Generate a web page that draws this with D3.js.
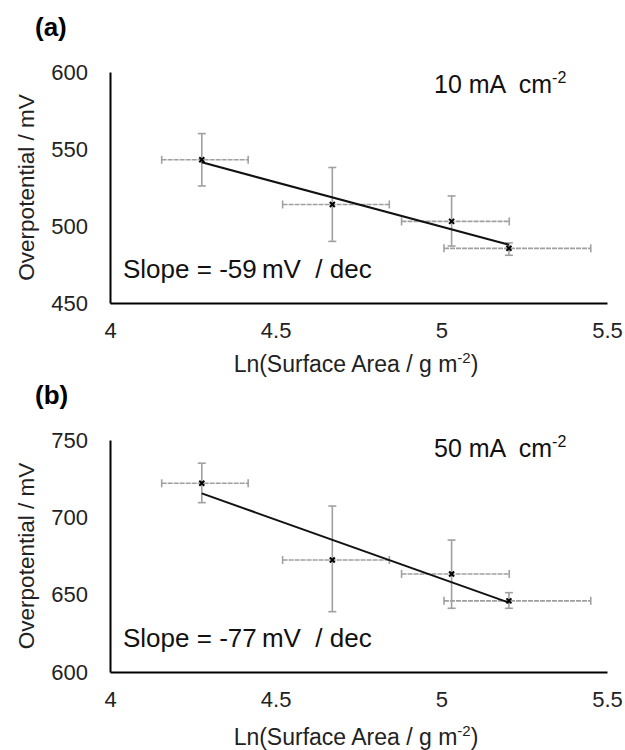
<!DOCTYPE html>
<html>
<head>
<meta charset="utf-8">
<script src="https://cdn.jsdelivr.net/npm/d3@7"></script>
<style>
  body { margin: 0; background: #fff; }
  svg { display: block; font-family: "Liberation Sans", Arial, sans-serif; }
  text { white-space: pre; }
</style>
</head>
<body>
<div id="chart"></div>
<script>
// ln(surface area) and its spread, shared by both panels
const lnArea = [4.277, 4.671, 5.031, 5.204];
const lnAreaLow = [4.156, 4.521, 4.880, 5.008];
const lnAreaHigh = [4.417, 4.843, 5.205, 5.451];

// overpotential at 10 mA cm-2
const eta10 = [543, 514, 503, 485.5];
const eta10Low = [526, 490, 487, 481];
const eta10High = [560, 538, 519.5, 489];

// overpotential at 50 mA cm-2
const eta50 = [722, 672.4, 663.4, 646];
const eta50Low = [709.5, 639, 641.2, 641.2];
const eta50High = [735, 707.3, 685.3, 651.3];

const xTicks = [4, 4.5, 5, 5.5];
const yTicks10 = [450, 500, 550, 600];
const yTicks50 = [600, 650, 700, 750];

const width = 625, height = 750;

const svg = d3.select('#chart').append('svg')
    .attr('width', width)
    .attr('height', height);

const x = d3.scaleLinear().domain([4, 5.5]).range([110, 607]);

// least squares line through the points
function fit(xs, ys) {
    const mx = d3.mean(xs), my = d3.mean(ys);
    const sxy = d3.sum(xs, (v, i) => (v - mx) * (ys[i] - my));
    const sxx = d3.sum(xs, v => (v - mx) * (v - mx));
    const b = sxy / sxx;
    return v => my + b * (v - mx);
}

function panel(opts) {
    const y = d3.scaleLinear().domain(opts.domain).range([opts.bottom, opts.top]);
    const g = svg.append('g');

    // axes
    g.append('g')
        .attr('transform', `translate(${x.range()[0]},0)`)
        .call(d3.axisLeft(y).tickValues(opts.ticks).tickSize(0).tickPadding(22))
        .call(a => a.select('.domain').attr('stroke', '#000').attr('stroke-width', 2))
        .call(a => a.selectAll('text').attr('font-size', 22).attr('fill', '#222')
            .attr('font-family', '"Liberation Sans", Arial, sans-serif'));

    g.append('g')
        .attr('transform', `translate(0,${opts.bottom})`)
        .call(d3.axisBottom(x).tickValues(xTicks).tickFormat(d3.format('')).tickSize(0).tickPadding(19))
        .call(a => a.select('.domain').attr('stroke', '#000').attr('stroke-width', 2))
        .call(a => a.selectAll('text').attr('font-size', 22).attr('fill', '#222')
            .attr('font-family', '"Liberation Sans", Arial, sans-serif'));

    const pts = lnArea.map((v, i) => ({
        x: v, xl: lnAreaLow[i], xh: lnAreaHigh[i],
        y: opts.vals[i], yl: opts.low[i], yh: opts.high[i]
    }));

    // horizontal error bars
    const eb = g.append('g').attr('stroke', '#a0a0a0').attr('stroke-width', 1.6).attr('fill', 'none');
    eb.selectAll('.hbar').data(pts).enter().append('line')
        .attr('x1', d => x(d.xl)).attr('x2', d => x(d.xh))
        .attr('y1', d => y(d.y)).attr('y2', d => y(d.y))
        .attr('stroke-dasharray', '5,1');
    eb.selectAll('.hcapl').data(pts).enter().append('line')
        .attr('x1', d => x(d.xl)).attr('x2', d => x(d.xl))
        .attr('y1', d => y(d.y) - 4).attr('y2', d => y(d.y) + 4);
    eb.selectAll('.hcapr').data(pts).enter().append('line')
        .attr('x1', d => x(d.xh)).attr('x2', d => x(d.xh))
        .attr('y1', d => y(d.y) - 4).attr('y2', d => y(d.y) + 4);

    // vertical error bars
    eb.selectAll('.vbar').data(pts).enter().append('line')
        .attr('x1', d => x(d.x)).attr('x2', d => x(d.x))
        .attr('y1', d => y(d.yl)).attr('y2', d => y(d.yh));
    eb.selectAll('.vcapl').data(pts).enter().append('line')
        .attr('x1', d => x(d.x) - 4).attr('x2', d => x(d.x) + 4)
        .attr('y1', d => y(d.yl)).attr('y2', d => y(d.yl));
    eb.selectAll('.vcaph').data(pts).enter().append('line')
        .attr('x1', d => x(d.x) - 4).attr('x2', d => x(d.x) + 4)
        .attr('y1', d => y(d.yh)).attr('y2', d => y(d.yh));

    // linear trend line
    const f = fit(lnArea, opts.vals);
    const x0 = d3.min(lnArea), x1 = d3.max(lnArea);
    g.append('line')
        .attr('x1', x(x0)).attr('y1', y(f(x0)))
        .attr('x2', x(x1)).attr('y2', y(f(x1)))
        .attr('stroke', '#111').attr('stroke-width', 2);

    // markers
    g.selectAll('.mark').data(pts).enter().append('path')
        .attr('transform', d => `translate(${x(d.x)},${y(d.y)})`)
        .attr('d', d3.symbol(d3.symbolX, 18))
        .attr('stroke', '#000').attr('stroke-width', 2);

    // texts
    g.append('text')
        .attr('x', 35).attr('y', opts.top - 36)
        .attr('font-size', 26).attr('font-weight', 'bold').attr('fill', '#000')
        .text(opts.label);

    g.append('text')
        .attr('transform', `translate(34,${(opts.top + opts.bottom) / 2}) rotate(-90)`)
        .attr('text-anchor', 'middle')
        .attr('font-size', 22.5).attr('fill', '#222')
        .text('Overpotential / mV');

    const xt = g.append('text')
        .attr('x', 356).attr('y', opts.bottom + opts.titleGap)
        .attr('text-anchor', 'middle')
        .attr('font-size', 23).attr('fill', '#222');
    xt.append('tspan').text('Ln(Surface Area / g m');
    xt.append('tspan').attr('font-size', 15).attr('dy', -9).text('-2');
    xt.append('tspan').attr('dy', 9).text(')');

    const ct = g.append('text')
        .attr('x', 434).attr('y', opts.top + opts.currentGap)
        .attr('font-size', 25).attr('fill', '#111');
    ct.append('tspan').text(opts.current + ' mA  cm');
    ct.append('tspan').attr('font-size', 16).attr('dy', -10).text('-2');

    g.append('text')
        .attr('x', 123).attr('y', opts.bottom - 25)
        .attr('font-size', 26).attr('fill', '#111')
        .text(`Slope = ${opts.slope}\u2009mV  / dec`);
}

panel({
    label: '(a)', top: 72, bottom: 303, domain: [450, 600], ticks: yTicks10,
    vals: eta10, low: eta10Low, high: eta10High,
    current: '10', slope: '-59', titleGap: 69, currentGap: 21
});

panel({
    label: '(b)', top: 440, bottom: 672, domain: [600, 750], ticks: yTicks50,
    vals: eta50, low: eta50Low, high: eta50High,
    current: '50', slope: '-77', titleGap: 73, currentGap: 17
});
</script>
</body>
</html>
